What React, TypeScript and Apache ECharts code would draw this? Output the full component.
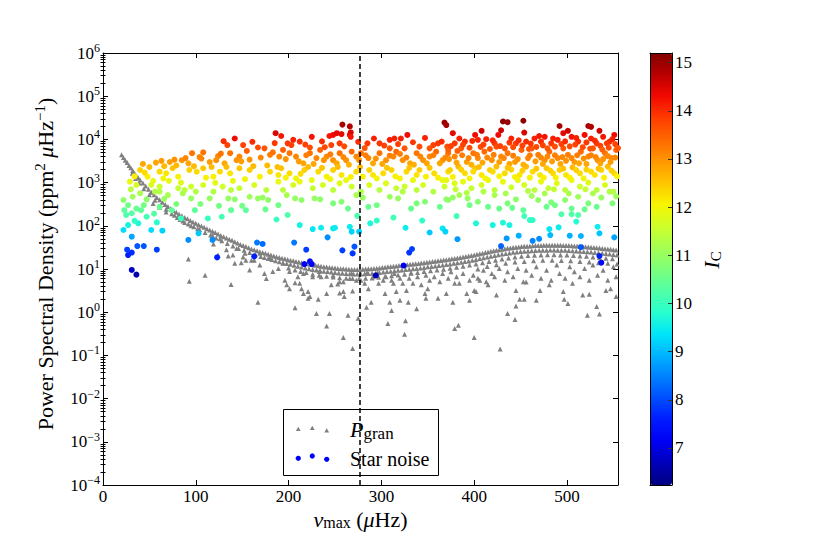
import React, { useEffect, useRef } from "react";
import * as echarts from "echarts";

// ---------- axes / ticks ----------
const X_RANGE = [0, 555];
const X_INTERVAL = 100;
const Y_MAJOR = [1e-4, 1e-3, 1e-2, 1e-1, 1, 10, 100, 1e3, 1e4, 1e5, 1e6];
const IC_TICKS = [7, 8, 9, 10, 11, 12, 13, 14, 15];
const IC_RANGE = [6.23, 15.2];
const NU_MAX_LINE = 277;

// jet colormap samples (0 .. 1 in steps of 0.05)
const JET = [
  "#000080", "#0000b9", "#0000f3", "#001aff", "#004dff", "#0080ff", "#00b3ff",
  "#00e6f8", "#29ffce", "#52ffa6", "#7dff7a", "#a6ff52", "#ceff29", "#f8f500",
  "#ffc400", "#ff9600", "#ff6800", "#ff3b00", "#f30900", "#b90000", "#800000",
];

// ---------- P_gran (grey triangles): [nu_max, PSD] ----------
const granCurve: [number, number][] = [
  [20, 4400], [22, 3800], [24, 3300], [26, 2900], [28, 2500], [30, 2200], [32, 1900], [34, 1650], [36, 1450], [38, 1300],
  [40, 1150], [43, 980], [46, 830], [49, 700], [52, 600], [55, 520], [58, 450], [61, 400], [64, 350], [67, 310],
  [70, 280], [73, 250], [76, 225], [79, 205], [82, 185], [85, 170], [88, 155], [91, 145], [94, 132], [97, 122],
  [100, 114], [103, 106], [106, 99], [109, 92], [112, 86], [115, 80], [118, 75], [121, 70], [124, 65], [127, 60],
  [130, 56], [133, 52], [136, 49], [139, 46], [142, 43], [145, 40], [148, 37], [151, 35], [154, 33], [157, 31],
  [160, 29], [163, 28], [166, 26.5], [169, 25], [172, 24], [175, 23], [178, 22], [181, 21], [184, 20], [187, 19.2],
  [190, 18.5], [193, 17.8], [196, 17.2], [199, 16.6], [202, 16], [205, 15.5], [208, 15], [211, 14.5], [214, 14], [217, 13.6],
  [220, 13.2], [223, 12.8], [226, 12.5], [229, 12.2], [232, 11.9], [235, 11.6], [238, 11.3], [241, 11.1], [244, 10.9], [247, 10.7],
  [250, 10.5], [253, 10.3], [256, 10.2], [259, 10.1], [262, 10], [265, 9.9], [268, 9.8], [271, 9.8], [274, 9.8], [277, 9.8],
  [280, 9.9], [283, 10], [286, 10.1], [289, 10.2], [292, 10.3], [295, 10.4], [298, 10.6], [301, 10.8], [304, 11], [307, 11.2],
  [310, 11.4], [313, 11.6], [316, 11.8], [319, 12], [322, 12.2], [325, 12.4], [328, 12.6], [331, 12.8], [334, 13], [337, 13.2],
  [340, 13.4], [343, 13.7], [346, 14], [349, 14.3], [352, 14.6], [355, 14.9], [358, 15.2], [361, 15.5], [364, 15.8], [367, 16.1],
  [370, 16.4], [373, 16.8], [376, 17.2], [379, 17.6], [382, 18], [385, 18.5], [388, 19], [391, 19.5], [394, 20], [397, 20.6],
  [400, 21.2], [403, 21.9], [406, 22.6], [409, 23.3], [412, 24], [415, 24.8], [418, 25.6], [421, 26.4], [424, 27.2], [427, 28],
  [430, 28.8], [433, 29.5], [436, 30.2], [439, 30.8], [442, 31.4], [445, 32], [448, 32.5], [451, 33], [454, 33.4], [457, 33.8],
  [460, 34.2], [463, 34.5], [466, 34.8], [469, 35], [472, 35.2], [475, 35.4], [478, 35.5], [481, 35.6], [484, 35.6], [487, 35.6],
  [490, 35.5], [493, 35.4], [496, 35.2], [499, 35], [502, 34.8], [505, 34.5], [508, 34.2], [511, 33.9], [514, 33.6], [517, 33.2],
  [520, 32.8], [523, 32.4], [526, 32], [529, 31.5], [532, 31], [535, 30.5], [538, 30], [541, 29.5], [544, 29], [547, 28.5],
  [550, 28], [553, 27.5],
];

const granBand: [number, number][] = [
  [31.5, 1650], [35, 1250], [39, 980], [44, 720], [50, 520], [56, 390], [62, 300], [68, 240], [74, 190], [80, 155],
  [86, 130], [92, 110], [98, 95], [104, 82], [110, 70], [116, 61], [122, 52], [128, 45], [134, 39], [140, 34],
  [146, 30], [152, 27], [158, 24], [164, 21.5], [170, 19.5], [174, 18.5], [178, 17.5], [182, 16.5], [186, 15.5], [190, 14.8],
  [194, 14], [198, 13.4], [202, 12.8], [206, 12.2], [210, 11.6], [214, 11.1], [218, 10.6], [222, 10.2], [226, 9.8], [230, 9.5],
  [234, 9.2], [238, 8.9], [242, 8.7], [246, 8.5], [250, 8.3], [254, 8.1], [258, 8], [262, 7.9], [266, 7.8], [270, 7.7],
  [274, 7.7], [278, 7.7], [282, 7.8], [286, 7.9], [290, 8], [294, 8.1], [298, 8.3], [302, 8.5], [306, 8.7], [310, 8.9],
  [314, 9.1], [318, 9.3], [322, 9.5], [326, 9.7], [330, 9.9], [334, 10.1], [338, 10.3], [342, 10.6], [346, 10.9], [350, 11.2],
  [354, 11.5], [358, 11.8], [362, 12.1], [366, 12.4], [370, 12.7], [374, 13.1], [378, 13.5], [382, 13.9], [386, 14.4], [390, 14.9],
  [394, 15.4], [398, 16], [402, 16.7], [406, 17.4], [410, 18.1], [414, 18.9], [418, 19.7], [422, 20.5], [426, 21.3], [430, 22.1],
  [434, 22.9], [438, 23.6], [442, 24.3], [446, 24.8], [450, 25.3], [454, 25.7], [458, 26.1], [462, 26.5], [466, 26.8], [470, 27],
  [474, 27.2], [478, 27.3], [482, 27.4], [486, 27.4], [490, 27.3], [494, 27.2], [498, 27], [502, 26.8], [506, 26.5], [510, 26.2],
  [514, 25.9], [518, 25.5], [522, 25.1], [526, 24.7], [530, 24.2], [534, 23.7], [538, 23.2], [542, 22.7], [546, 22.2], [550, 21.7],
  [554, 21.2],
];

const granLower: [number, number][] = [
  [200, 10.5], [207, 9.5], [213, 8.8], [219, 8.3], [226, 7.6], [233, 7.2], [241, 6.8], [248, 6.5], [255, 6.3], [262, 6.1],
  [269, 6], [276, 6], [283, 6.1], [290, 6.2], [297, 6.4], [304, 6.7], [311, 7], [318, 7.3], [325, 7.6], [332, 8],
  [339, 8.3], [346, 8.7], [353, 9.1], [360, 9.5], [367, 9.9], [374, 10.4], [381, 11], [388, 11.6], [395, 12.3], [402, 13.1],
  [409, 14], [416, 15], [423, 16], [430, 17], [437, 18], [444, 19], [451, 19.8], [458, 20.4], [465, 20.9], [472, 21.2],
  [479, 21.4], [486, 21.4], [493, 21.2], [500, 21], [507, 20.6], [514, 20.1], [521, 19.6], [528, 19], [535, 18.4], [542, 17.8],
  [549, 17.2],
  [404, 10], [414, 11.5], [424, 12.5], [434, 13.5], [444, 14.5], [454, 15], [464, 15.5], [474, 16], [484, 16], [494, 15.8],
  [504, 15.5], [514, 15], [524, 14.5], [534, 14], [544, 13.5], [554, 13],
];

const granScatter: [number, number][] = [
  [54, 330], [61, 270], [68, 210], [77, 175], [83, 140], [88, 120], [95, 100], [102, 85], [118, 60], [126, 50],
  [92, 17], [93, 5.2], [110, 7.2], [119, 38], [124, 21], [135, 20], [138, 4.4], [142, 13.6], [149, 14], [153, 23],
  [158, 9.5], [154, 16], [160, 16], [167, 1.7], [169, 12.4], [174, 7.9], [176, 6], [189, 10.3], [198, 4.3], [201, 3.5],
  [207, 1.26], [207, 4.8], [214, 3.5], [221, 3], [223, 2.3], [221, 2.1], [232, 2], [230, 0.93], [235, 6.6], [241, 0.48],
  [244, 0.93], [246, 4.3], [241, 2.7], [253, 4.5], [255, 2.8], [259, 3], [260, 2.3], [259, 0.26], [264, 0.85], [266, 6],
  [269, 3.1], [269, 0.145], [275, 0.72],
  [133, 28], [140, 21], [144, 30], [151, 19], [163, 16], [169, 23], [180, 18], [183, 8.7], [194, 13.5], [201, 8.7],
  [210, 6.6], [216, 7.9], [226, 6.6], [233, 8.7], [248, 7.2], [259, 5.1], [268, 7.9], [273, 5.5], [212, 4.7], [196, 5.5],
  [216, 2.7], [255, 5.1],
  [284, 1.3], [286, 3.5], [289, 1.7], [297, 4.7], [304, 2.7], [307, 0.55], [309, 1.7], [311, 1.1], [313, 4.7], [316, 3],
  [320, 1.9], [325, 0.31], [326, 0.63], [327, 3.2], [329, 1.7], [334, 4.7], [338, 1.2], [347, 2.7], [348, 2.1], [350, 3.5],
  [361, 2.1], [370, 2.7], [377, 1.7], [379, 0.42], [383, 0.5], [379, 4.7], [392, 2.7], [395, 1.9], [400, 3.2], [402, 3],
  [400, 0.26], [406, 5.5], [415, 4.3], [424, 2.5], [428, 0.14], [436, 0.93], [444, 0.68], [445, 1.4], [449, 2], [454, 2],
  [445, 3.2], [456, 5], [467, 1.9], [471, 3.2], [481, 4.3], [496, 3], [497, 2], [501, 1.6], [506, 4.7], [517, 2.5],
  [524, 2.6], [522, 0.85], [532, 1.35], [535, 0.91], [542, 3.2], [547, 3.5], [553, 2.3],
  [278, 5.5], [282, 4.7], [284.5, 8.2], [291, 6.6], [296, 8.2], [302, 5.5], [305, 6.6], [311, 5.5], [314, 7.9], [320, 6.1],
  [323, 4.7], [330, 6.1], [332, 8.2], [339, 6.6], [343, 4.3], [348, 7.2], [352, 5.5], [357, 6.6], [363, 5.1], [366, 7.9],
  [372, 6.1], [375, 8.6], [381, 6.6], [384, 4.7], [388, 7.9], [395, 5.5], [399, 7.2], [404, 6.1], [410, 9.3], [413, 5.1],
  [419, 7.9], [422, 6.6], [427, 10.3], [433, 5.5], [436, 8.6], [442, 6.6], [447, 10.3], [453, 5.1], [456, 9.3], [462, 7.2],
  [467, 11.3], [472, 6.1], [478, 9.3], [483, 5.5], [489, 12.3], [492, 7.9], [498, 6.1], [503, 11.3], [508, 8.6], [514, 6.6],
  [519, 10.3], [524, 5.5], [528, 12.3], [533, 7.2], [539, 9.3], [544, 5.5], [550, 11.3], [553, 6.6],
];

// ---------- Star noise (coloured circles): [nu_max, PSD, I_C] ----------
const starLowNu: [number, number, number][] = [
  [142, 10500, 14.3], [134, 7400, 13.8], [151, 7400, 13.8], [186, 13900, 14.5], [167, 6500, 13.7], [174, 6200, 13.6],
  [96, 4800, 13.3], [108, 5000, 13.3], [104, 3900, 13.1], [124, 4100, 13.1], [137, 4800, 13.3], [147, 4000, 13.1], [180, 4400, 13.2], [190, 4000, 13.1],
  [43, 2700, 12.8], [57, 2900, 12.8], [63, 3200, 12.9], [72, 3000, 12.9], [77, 3400, 13], [85, 3300, 13], [92, 2800, 12.8], [115, 3000, 12.9], [122, 3300, 13], [131, 2800, 12.8], [144, 3300, 13], [158, 3400, 13],
  [40, 1960, 12.4], [48, 1370, 12.1], [61, 1790, 12.3], [68, 1640, 12.2], [75, 2150, 12.5], [81, 1370, 12.1], [93, 1960, 12.4], [101, 1790, 12.3], [108, 2150, 12.5], [119, 1370, 12.1], [126, 1790, 12.3], [137, 1640, 12.2], [147, 2150, 12.5], [158, 1960, 12.4], [169, 1370, 12.1], [180, 1790, 12.3], [189, 1500, 12.2],
  [29, 1050, 11.9], [36, 880, 11.7], [52, 880, 11.7], [61, 810, 11.6], [65, 1250, 12], [81, 740, 11.5], [88, 675, 11.4], [95, 810, 11.6], [108, 880, 11.7], [119, 615, 11.3], [129, 810, 11.6], [138, 675, 11.4], [147, 740, 11.5], [163, 880, 11.7], [176, 675, 11.4], [189, 1050, 11.9],
  [22, 395, 10.9], [27, 300, 10.6], [32, 470, 11.1], [40, 565, 11.2], [47, 410, 10.9], [61, 615, 11.3], [70, 515, 11.2], [86, 565, 11.2], [95, 430, 11], [115, 430, 11], [135, 430, 11], [142, 410, 10.9], [158, 470, 11.1], [167, 430, 11], [172, 450, 11], [178, 395, 10.9], [189, 300, 10.6],
  [23, 230, 10.4], [25, 178, 10.2], [31, 195, 10.3], [36, 250, 10.5], [41, 230, 10.4], [47, 162, 10.1], [61, 275, 10.5], [74, 230, 10.4], [84, 148, 10], [99, 230, 10.4], [113, 148, 10], [128, 162, 10.1], [138, 230, 10.4], [154, 230, 10.4], [187, 140, 10],
  [22, 80, 9.3], [27, 104, 9.6], [38, 114, 9.7], [52, 80, 9.3], [64, 77, 9.2], [103, 67, 9.1],
  [31, 56, 8.8], [92, 47, 8.6], [118, 47, 8.6], [166, 41, 8.4], [172, 38, 8.3],
  [26, 28, 7.9], [27, 21, 7.6], [31, 24, 7.7], [37, 34, 8.1], [44, 34, 8.1], [58, 28, 7.9], [123, 18.6, 7.6], [163, 19.6, 7.6], [31, 9.5, 6.8], [36, 7.4, 6.6],
  [30, 700, 11.4], [34, 1400, 12.1], [45, 1700, 12.3], [50, 2300, 12.6], [54, 1100, 11.9], [56, 620, 11.3], [66, 2400, 12.6], [71, 1100, 11.9], [79, 2500, 12.6], [84, 1000, 11.8],
  [89, 3700, 13.1], [98, 2400, 12.6], [100, 620, 11.3], [106, 3600, 13.1], [111, 1300, 12.1], [117, 2300, 12.6], [121, 990, 11.8], [127, 4700, 13.3], [133, 2300, 12.6], [140, 1100, 11.9],
  [149, 3100, 12.9], [153, 1200, 12], [155, 5400, 13.5], [161, 8800, 14], [162, 2400, 12.6], [170, 3800, 13.1], [177, 2500, 12.6], [183, 5000, 13.3], [185, 8200, 13.9], [188, 2300, 12.6],
  [130, 9100, 14], [44, 300, 10.6], [55, 190, 10.3], [66, 420, 11], [79, 320, 10.7], [105, 320, 10.7], [125, 290, 10.6], [150, 290, 10.6], [175, 240, 10.5], [34, 130, 9.9], [58, 120, 9.8],
];

const starMidNu: [number, number, number][] = [
  [192, 12000, 14.2], [199, 8100, 13.9], [203, 7400, 13.8], [212, 8900, 14], [225, 11500, 14.2], [223, 6500, 13.7], [244, 12000, 14.2], [248, 12700, 14.3], [252, 13900, 14.4], [257, 13300, 14.4],
  [246, 7400, 13.8], [255, 8100, 13.9], [266, 12700, 14.3], [285, 8100, 13.9], [298, 8100, 13.9], [309, 9800, 14.1], [314, 10500, 14.1], [321, 10500, 14.1], [328, 12700, 14.3], [309, 6200, 13.6],
  [341, 6800, 13.7], [352, 6200, 13.6], [361, 8100, 13.9], [365, 8900, 14],
  [258, 22000, 14.9], [266, 20000, 14.8], [267, 14500, 14.5], [267, 11500, 14.2], [368, 24500, 15], [370, 21500, 14.9],
  [194, 5700, 13.5], [201, 4800, 13.3], [208, 4000, 13.1], [216, 2800, 12.8], [223, 4800, 13.3], [230, 3700, 13.1], [234, 5700, 13.5], [241, 4000, 13.1], [248, 3300, 13], [255, 4800, 13.3],
  [262, 3300, 13], [268, 5200, 13.4], [273, 4000, 13.1], [278, 4800, 13.3], [286, 3700, 13.1], [291, 2800, 12.8], [298, 4800, 13.3], [305, 3300, 13], [313, 4000, 13.1], [316, 5200, 13.4],
  [323, 3300, 13], [331, 2800, 12.8], [338, 4800, 13.3], [345, 3300, 13], [352, 4000, 13.1], [359, 5200, 13.4], [366, 3300, 13], [372, 4800, 13.3],
  [192, 2150, 12.5], [201, 1640, 12.3], [208, 1250, 12], [217, 1960, 12.4], [225, 1140, 11.9], [232, 1790, 12.3], [241, 1370, 12.1], [248, 1960, 12.4], [257, 1500, 12.2], [262, 1140, 11.9],
  [273, 1790, 12.3], [280, 1370, 12.1], [287, 1960, 12.4], [295, 1250, 12], [302, 1640, 12.3], [311, 1960, 12.4], [320, 1250, 12], [327, 1790, 12.3], [334, 1140, 11.9], [341, 1960, 12.4],
  [348, 1370, 12.1], [357, 1640, 12.3], [366, 1140, 11.9], [372, 1790, 12.3],
  [194, 675, 11.4], [205, 880, 11.7], [212, 1050, 11.9], [226, 740, 11.5], [237, 880, 11.7], [248, 675, 11.4], [255, 960, 11.8], [268, 810, 11.6], [278, 615, 11.3], [287, 880, 11.7],
  [298, 675, 11.4], [305, 960, 11.8], [316, 740, 11.5], [325, 810, 11.6], [338, 675, 11.4], [345, 880, 11.7], [356, 615, 11.3], [368, 810, 11.6],
  [198, 515, 11.2], [207, 430, 11], [214, 395, 10.9], [228, 430, 11], [234, 410, 10.9], [248, 330, 10.7], [257, 360, 10.8], [264, 250, 10.5], [273, 515, 11.2], [280, 450, 11],
  [286, 275, 10.5], [295, 300, 10.6], [309, 470, 11.1], [318, 430, 11], [323, 615, 11.3], [332, 250, 10.5], [338, 330, 10.7], [347, 360, 10.8], [363, 275, 10.5], [370, 410, 10.9],
  [199, 178, 10.2], [212, 104, 9.6], [226, 84, 9.4], [235, 90, 9.5], [248, 87, 9.4], [250, 90, 9.5], [266, 95, 9.5], [268, 73, 9.2], [274, 170, 10.2], [276, 73, 9.2],
  [288, 114, 9.7], [295, 132, 9.9], [313, 155, 10.1], [326, 90, 9.5], [344, 132, 9.9], [352, 70, 9.1], [366, 87, 9.4], [369, 73, 9.2],
  [206, 41, 8.4], [219, 28, 7.9], [242, 54, 8.6], [258, 27, 7.9], [269, 23, 7.8], [271, 33, 8.1], [330, 24, 7.8], [333, 29, 7.9],
  [217, 13, 7.2], [223, 15, 7.3], [225, 13, 7.2], [294, 7.1, 6.7], [324, 12, 7.1],
  [205, 9800, 14.1], [218, 7600, 13.8], [236, 9000, 14], [239, 6600, 13.7], [260, 6900, 13.7], [275, 8800, 14], [282, 6300, 13.6], [292, 10500, 14.1], [303, 7200, 13.8], [318, 7800, 13.8],
  [325, 6200, 13.6], [334, 8600, 13.9], [347, 10800, 14.1], [356, 7400, 13.8], [371, 6800, 13.7],
  [197, 3500, 13], [211, 3100, 12.9], [219, 4300, 13.2], [227, 2700, 12.8], [238, 3300, 13], [245, 4500, 13.2], [252, 2800, 12.8], [259, 3900, 13.1], [265, 2600, 12.7], [276, 3300, 13],
  [283, 4300, 13.2], [294, 3600, 13], [301, 2700, 12.8], [309, 4200, 13.2], [320, 4600, 13.2], [327, 3800, 13.1], [335, 2600, 12.7], [342, 4000, 13.1], [349, 2800, 12.8], [356, 4300, 13.2],
  [363, 2800, 12.8], [369, 3800, 13.1],
  [197, 1300, 12.1], [213, 1600, 12.3], [221, 2300, 12.6], [236, 2200, 12.5], [245, 1200, 12], [253, 2300, 12.6], [267, 1350, 12.1], [277, 2300, 12.6], [291, 1500, 12.2], [306, 2200, 12.5],
  [315, 1400, 12.1], [330, 2200, 12.5], [338, 1500, 12.2], [352, 2200, 12.5], [361, 1300, 12.1],
];

const starHighNu: [number, number, number][] = [
  [431, 26000, 15.1], [436, 25000, 15], [453, 27000, 15.1], [408, 15800, 14.6], [492, 20400, 14.9], [501, 15800, 14.6], [523, 20400, 14.9], [526, 19500, 14.8], [535, 15800, 14.6], [429, 16300, 14.6], [454, 14400, 14.5],
  [377, 13900, 14.4], [384, 10500, 14.1], [379, 8100, 13.9], [390, 8900, 14], [401, 12700, 14.3], [404, 9800, 14.1], [413, 10100, 14.1], [422, 8100, 13.9], [426, 12700, 14.3], [440, 10500, 14.1],
  [445, 8100, 13.9], [456, 8900, 14], [465, 10500, 14.1], [472, 8900, 14], [476, 11500, 14.2], [483, 8100, 13.9], [490, 9800, 14.1], [496, 13900, 14.4], [505, 11500, 14.2], [512, 8900, 14],
  [519, 12700, 14.3], [526, 10500, 14.1], [532, 8100, 13.9], [539, 11500, 14.2], [546, 8900, 14], [551, 12700, 14.3],
  [372, 5700, 13.5], [379, 4000, 13.1], [386, 6200, 13.6], [392, 3000, 12.9], [399, 4800, 13.3], [404, 3700, 13.1], [411, 5200, 13.4], [419, 3300, 13], [424, 6800, 13.7], [429, 4000, 13.1],
  [436, 4800, 13.3], [444, 3000, 12.9], [451, 5700, 13.5], [458, 3700, 13.1], [462, 6200, 13.6], [469, 4400, 13.2], [476, 3300, 13], [481, 5200, 13.4], [490, 3700, 13.1], [496, 6200, 13.6],
  [501, 4400, 13.2], [508, 3000, 12.9], [515, 5200, 13.4], [523, 4000, 13.1], [528, 6200, 13.6], [533, 3300, 13], [541, 4800, 13.3], [548, 3700, 13.1], [553, 5700, 13.5],
  [374, 1960, 12.4], [383, 2350, 12.6], [390, 1640, 12.3], [401, 2150, 12.5], [408, 1500, 12.2], [417, 1960, 12.4], [424, 2350, 12.6], [433, 1640, 12.3], [440, 2000, 12.4], [449, 1500, 12.2],
  [456, 2350, 12.6], [463, 1790, 12.3], [471, 1500, 12.2], [478, 2150, 12.5], [485, 1640, 12.3], [492, 1960, 12.4], [499, 1500, 12.2], [506, 2250, 12.6], [514, 1640, 12.3], [521, 2000, 12.4],
  [530, 1500, 12.2], [537, 1960, 12.4], [544, 2350, 12.6], [551, 1640, 12.3],
  [370, 1140, 11.9], [379, 960, 11.8], [388, 1050, 11.9], [397, 740, 11.5], [408, 880, 11.7], [415, 1140, 11.9], [422, 675, 11.4], [431, 1050, 11.9], [440, 780, 11.6], [447, 1140, 11.9],
  [454, 880, 11.7], [465, 675, 11.4], [472, 1050, 11.9], [480, 740, 11.5], [489, 960, 11.8], [498, 675, 11.4], [505, 1140, 11.9], [514, 810, 11.6], [523, 1000, 11.8], [532, 675, 11.4],
  [541, 880, 11.7], [550, 615, 11.3],
  [372, 395, 10.9], [377, 450, 11], [384, 515, 11.2], [393, 430, 11], [404, 360, 10.8], [415, 275, 10.5], [422, 515, 11.2], [427, 250, 10.5], [436, 330, 10.7], [445, 410, 10.9],
  [453, 230, 10.4], [462, 490, 11.1], [469, 395, 10.9], [478, 275, 10.5], [487, 300, 10.6], [498, 395, 10.9], [505, 250, 10.5], [512, 470, 11.1], [523, 330, 10.7], [532, 275, 10.5],
  [537, 450, 11], [546, 615, 11.3],
  [381, 168, 10.1], [402, 114, 9.7], [420, 104, 9.6], [431, 118, 9.7], [438, 104, 9.6], [454, 168, 10.1], [460, 136, 9.9], [463, 136, 9.9], [494, 185, 10.2], [505, 185, 10.2],
  [512, 178, 10.2], [510, 125, 9.8], [533, 95, 9.5],
  [382, 49, 8.7], [429, 34, 8.2], [435, 51, 8.7], [448, 59, 8.9], [463, 45, 8.5], [470, 50, 8.6], [481, 84, 9.4], [482, 61, 9], [491, 92, 9.5], [503, 59, 8.9],
  [515, 58, 8.9], [515, 32, 8.1], [535, 67, 9.1], [551, 54, 8.8],
  [535, 20, 7.6], [537, 14, 7.3],
  [375, 7000, 13.8], [382, 5400, 13.5], [388, 7600, 13.8], [395, 6400, 13.7], [398, 9200, 14], [407, 6700, 13.7], [410, 7600, 13.8], [417, 6000, 13.6], [420, 9500, 14], [428, 7000, 13.8],
  [433, 6200, 13.6], [438, 8400, 13.9], [442, 6600, 13.7], [448, 9500, 14], [452, 7200, 13.8], [459, 6000, 13.6], [461, 8000, 13.9], [467, 6700, 13.7], [470, 12000, 14.2], [474, 7300, 13.8],
  [479, 6200, 13.6], [485, 10500, 14.1], [487, 6800, 13.7], [494, 7800, 13.8], [498, 9000, 14], [503, 6900, 13.7], [509, 7600, 13.8], [510, 10800, 14.1], [517, 6600, 13.7], [521, 8500, 13.9],
  [525, 6100, 13.6], [530, 9400, 14], [536, 7100, 13.8], [538, 5800, 13.5], [543, 8100, 13.9], [545, 6400, 13.7], [549, 10200, 14.1], [552, 7800, 13.8], [555, 6300, 13.6],
  [373, 3500, 13], [381, 2900, 12.8], [387, 4300, 13.2], [394, 3700, 13.1], [397, 2600, 12.7], [403, 4400, 13.2], [409, 2900, 12.8], [414, 3800, 13.1], [421, 4400, 13.2], [427, 3000, 12.9],
  [432, 3700, 13.1], [438, 2700, 12.8], [442, 4200, 13.2], [447, 3500, 13], [453, 2600, 12.7], [460, 4300, 13.2], [466, 3100, 12.9], [472, 3800, 13.1], [474, 2700, 12.8], [479, 4000, 13.1],
  [484, 3100, 12.9], [487, 4300, 13.2], [493, 2700, 12.8], [495, 3900, 13.1], [499, 3200, 13], [505, 3700, 13.1], [511, 4300, 13.2], [513, 2800, 12.8], [518, 3600, 13], [521, 2700, 12.8],
  [526, 4300, 13.2], [531, 3900, 13.1], [536, 2800, 12.8], [539, 3500, 13], [544, 4100, 13.1], [547, 3000, 12.9], [552, 3800, 13.1],
  [377, 1350, 12.1], [386, 2000, 12.4], [395, 1250, 12], [399, 1800, 12.3], [405, 2300, 12.6], [412, 1250, 12], [420, 1800, 12.3], [427, 1400, 12.1], [436, 2200, 12.5], [444, 1350, 12.1],
  [452, 1900, 12.4], [460, 1300, 12.1], [467, 2100, 12.5], [475, 1300, 12.1], [482, 1900, 12.4], [488, 1300, 12.1], [496, 2100, 12.5], [503, 1300, 12.1], [510, 1950, 12.4], [518, 1250, 12],
  [526, 1800, 12.3], [534, 2100, 12.5], [540, 1300, 12.1], [548, 1900, 12.4], [554, 1400, 12.1],
  [380, 700, 11.5], [392, 580, 11.3], [410, 620, 11.3], [434, 560, 11.2], [458, 640, 11.3], [476, 560, 11.2], [486, 700, 11.5], [502, 560, 11.2], [520, 700, 11.5], [528, 560, 11.2],
  [553, 480, 11.1], [395, 300, 10.6], [441, 260, 10.5], [483, 350, 10.7], [519, 240, 10.5], [549, 330, 10.7],
];

const SERIF = "'Liberation Serif', 'Times New Roman', serif";

function buildMinorTicks(majors: number[]): number[] {
  const out: number[] = [];
  for (let i = 0; i < majors.length - 1; i++) {
    for (let k = 2; k <= 9; k++) out.push(k * majors[i]);
  }
  return out;
}

function powerLabel(v: number): string {
  const e = Math.round(Math.log10(v));
  const s = e < 0 ? "\u2212" + Math.abs(e) : String(e);
  return `{b|10}{e|${s}}`;
}

export default function App() {
  const ref = useRef<HTMLDivElement>(null);

  useEffect(() => {
    document.body.style.margin = "0";
    if (!ref.current) return;
    const chart = echarts.init(ref.current, undefined, { renderer: "svg" });
    const minor = buildMinorTicks(Y_MAJOR);
    const black = { color: "#000", width: 1 };

    const yBase = {
      type: "log" as const,
      logBase: 10,
      min: Y_MAJOR[0],
      max: Y_MAJOR[Y_MAJOR.length - 1],
      gridIndex: 0,
      splitLine: { show: false },
    };

    const granData = [...granCurve, ...granBand, ...granLower, ...granScatter];
    const starData = [...starLowNu, ...starMidNu, ...starHighNu];

    const option: any = {
      animation: false,
      backgroundColor: "#fff",
      textStyle: { fontFamily: SERIF },
      grid: [
        { left: 103, top: 53, width: 515, height: 432, outerBoundsMode: "none", containLabel: false },
        { left: 650, top: 53, width: 22, height: 432, outerBoundsMode: "none", containLabel: false },
      ],
      xAxis: [
        {
          type: "value",
          gridIndex: 0,
          position: "bottom",
          min: X_RANGE[0],
          max: X_RANGE[1],
          interval: X_INTERVAL,
          splitLine: { show: false },
          axisLine: { show: true, onZero: false, lineStyle: black },
          axisTick: { show: true, inside: true, length: 5, lineStyle: black },
          axisLabel: {
            show: true,
            margin: 4,
            fontFamily: SERIF,
            fontSize: 17,
            lineHeight: 15,
            color: "#000",
            showMaxLabel: false,
          },
          name: "{i|\u03bd}{sub|max}{t| (}{i|\u03bc}{t|Hz)}",
          nameLocation: "middle",
          nameGap: 24,
          nameMoveOverlap: false,
          nameTextStyle: {
            rich: {
              t: { fontFamily: SERIF, fontSize: 22, lineHeight: 20, color: "#000" },
              i: { fontFamily: SERIF, fontSize: 22, lineHeight: 20, fontStyle: "italic", color: "#000" },
              sub: { fontFamily: SERIF, fontSize: 16, lineHeight: 14, color: "#000", padding: [6, 0, 0, 0] },
            },
          },
        },
        {
          type: "value",
          gridIndex: 0,
          position: "top",
          min: X_RANGE[0],
          max: X_RANGE[1],
          interval: X_INTERVAL,
          splitLine: { show: false },
          axisLine: { show: true, onZero: false, lineStyle: black },
          axisTick: { show: true, inside: true, length: 5, lineStyle: black },
          axisLabel: { show: false },
        },
        {
          type: "value",
          gridIndex: 1,
          position: "bottom",
          min: 0,
          max: 1,
          z: 10,
          splitLine: { show: false },
          axisLine: { show: true, onZero: false, lineStyle: black },
          axisTick: { show: false },
          axisLabel: { show: false },
        },
        {
          type: "value",
          gridIndex: 1,
          position: "top",
          min: 0,
          max: 1,
          z: 10,
          splitLine: { show: false },
          axisLine: { show: true, onZero: false, lineStyle: black },
          axisTick: { show: false },
          axisLabel: { show: false },
        },
      ],
      yAxis: [
        {
          ...yBase,
          position: "left",
          axisLine: { show: true, onZero: false, lineStyle: black },
          axisTick: { show: true, inside: true, length: 5, lineStyle: black, customValues: Y_MAJOR },
          axisLabel: {
            show: true,
            customValues: Y_MAJOR,
            margin: 3,
            formatter: powerLabel,
            rich: {
              b: { fontFamily: SERIF, fontSize: 17, color: "#000" },
              e: { fontFamily: SERIF, fontSize: 12, color: "#000", padding: [0, 0, 10, 0] },
            },
          },
          name: "{t|Power Spectral Density (ppm}{s|2}{t| }{i|\u03bc}{t|Hz}{s|\u22121}{t|)}",
          nameLocation: "middle",
          nameRotate: 90,
          nameGap: 45,
          nameTextStyle: {
            padding: [0, 0, 0, 10],
            rich: {
              t: { fontFamily: SERIF, fontSize: 22, color: "#000" },
              i: { fontFamily: SERIF, fontSize: 22, fontStyle: "italic", color: "#000" },
              s: { fontFamily: SERIF, fontSize: 15, color: "#000", padding: [0, 0, 11, 0] },
            },
          },
        },
        {
          ...yBase,
          position: "right",
          axisLine: { show: true, onZero: false, lineStyle: black },
          axisTick: { show: true, inside: true, length: 5, lineStyle: black, customValues: Y_MAJOR },
          axisLabel: { show: false },
        },
        {
          ...yBase,
          position: "left",
          axisLine: { show: false },
          axisTick: { show: true, inside: true, length: 2.5, lineStyle: black, customValues: minor },
          axisLabel: { show: false },
        },
        {
          ...yBase,
          position: "right",
          axisLine: { show: false },
          axisTick: { show: true, inside: true, length: 2.5, lineStyle: black, customValues: minor },
          axisLabel: { show: false },
        },
        {
          type: "value",
          gridIndex: 1,
          position: "left",
          min: IC_RANGE[0],
          max: IC_RANGE[1],
          z: 10,
          splitLine: { show: false },
          axisLine: { show: true, onZero: false, lineStyle: black },
          axisTick: { show: false },
          axisLabel: { show: false },
        },
        {
          type: "value",
          gridIndex: 1,
          position: "right",
          min: IC_RANGE[0],
          max: IC_RANGE[1],
          z: 10,
          splitLine: { show: false },
          axisLine: { show: true, onZero: false, lineStyle: black },
          axisTick: { show: true, inside: true, length: 4, lineStyle: { color: "#333", width: 1 }, customValues: IC_TICKS },
          axisLabel: {
            show: true,
            customValues: IC_TICKS,
            margin: 3,
            fontFamily: SERIF,
            fontSize: 17,
            color: "#000",
          },
          name: "{i|I}{sub|C}",
          nameLocation: "middle",
          nameRotate: 90,
          nameGap: 28,
          nameTextStyle: {
            padding: [0, 0, 0, 18],
            rich: {
              i: { fontFamily: SERIF, fontSize: 22, fontStyle: "italic", color: "#000" },
              sub: { fontFamily: SERIF, fontSize: 15, color: "#000", padding: [8, 0, 0, 0] },
            },
          },
        },
      ],
      visualMap: {
        type: "continuous",
        min: IC_RANGE[0],
        max: IC_RANGE[1],
        dimension: 2,
        seriesIndex: 1,
        orient: "vertical",
        left: 650,
        top: 53,
        itemWidth: 22,
        itemHeight: 432,
        padding: 0,
        calculable: false,
        hoverLink: false,
        showLabel: false,
        inRange: { color: JET },
      },
      series: [
        {
          name: "P_gran",
          type: "scatter",
          xAxisIndex: 0,
          yAxisIndex: 0,
          symbol: "triangle",
          symbolSize: 5,
          itemStyle: { color: "#808080", opacity: 1 },
          data: granData,
          silent: true,
        },
        {
          name: "Star noise",
          type: "scatter",
          xAxisIndex: 0,
          yAxisIndex: 0,
          symbol: "circle",
          symbolSize: 6,
          itemStyle: { opacity: 1 },
          encode: { x: 0, y: 1 },
          data: starData,
          silent: true,
          markLine: {
            silent: true,
            symbol: ["none", "none"],
            label: { show: false },
            lineStyle: { color: "#000", type: [5, 3], width: 1.5 },
            data: [{ xAxis: NU_MAX_LINE }],
          },
        },
      ],
      graphic: [
        {
          type: "group",
          z: 100,
          children: [
            {
              type: "rect",
              shape: { x: 283.5, y: 409.5, width: 155, height: 66 },
              style: { fill: "#fff", stroke: "#000", lineWidth: 1 },
            },
            {
              type: "polygon",
              shape: { points: [[298.3, 426.8], [295.9, 431], [300.7, 431]] },
              style: { fill: "#808080" },
            },
            {
              type: "polygon",
              shape: { points: [[312.3, 425.8], [309.9, 430], [314.7, 430]] },
              style: { fill: "#808080" },
            },
            {
              type: "polygon",
              shape: { points: [[326.7, 428.2], [324.3, 432.4], [329.1, 432.4]] },
              style: { fill: "#808080" },
            },
            { type: "circle", shape: { cx: 298.3, cy: 458.3, r: 2.6 }, style: { fill: "#0000ff" } },
            { type: "circle", shape: { cx: 312.3, cy: 456, r: 2.6 }, style: { fill: "#0000ff" } },
            { type: "circle", shape: { cx: 326.7, cy: 459.3, r: 2.6 }, style: { fill: "#0000ff" } },
            {
              type: "text",
              x: 350,
              y: 429,
              style: {
                text: "{i|P}{s|gran}",
                align: "left",
                verticalAlign: "middle",
                rich: {
                  i: { fontFamily: SERIF, fontSize: 22, fontStyle: "italic", fill: "#000" },
                  s: { fontFamily: SERIF, fontSize: 17, fill: "#000", padding: [9, 0, 0, 0] },
                },
              },
            },
            {
              type: "text",
              x: 350,
              y: 458.5,
              style: {
                text: "Star noise",
                align: "left",
                verticalAlign: "middle",
                fontFamily: SERIF,
                fontSize: 20,
                fill: "#000",
              },
            },
          ],
        },
      ],
    };

    chart.setOption(option);
    return () => chart.dispose();
  }, []);

  return <div ref={ref} style={{ width: 830, height: 540 }} />;
}
